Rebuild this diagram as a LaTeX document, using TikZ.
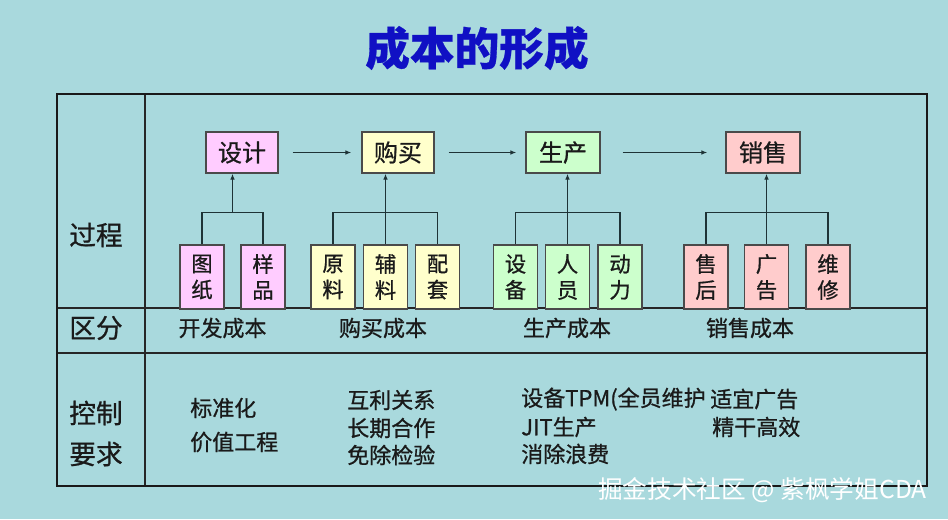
\documentclass[tikz,border=0pt]{standalone}
\usepackage{fontspec}
\setmainfont{Noto Sans CJK SC}[FakeBold=0.8]
\newfontfamily\titlefont{Noto Sans CJK SC}[FakeBold=0.6]
\newfontfamily\plainfont{Noto Sans CJK SC}
\usetikzlibrary{arrows.meta,calc}
\definecolor{bg}{HTML}{A9D9DD}
\definecolor{txt}{HTML}{1A1A1A}
\definecolor{boxline}{HTML}{4A4A4A}
\definecolor{conn}{HTML}{1E3336}
\definecolor{titleblue}{HTML}{1010C4}
\definecolor{fdesign}{HTML}{FFCCFF}
\definecolor{fbuy}{HTML}{FFFFCC}
\definecolor{fprod}{HTML}{CCFFCC}
\definecolor{fsale}{HTML}{FFCCCC}
\tikzset{
  topbox/.style={draw=boxline, line width=1pt, minimum width=54pt, minimum height=30.75pt,
    inner sep=0pt, text=txt, font=\fontsize{18}{20}\selectfont},
  subbox/.style={draw=boxline, line width=1pt, minimum width=33pt, minimum height=48pt,
    inner sep=0pt, align=center, text=txt, font=\fontsize{16}{19.5}\selectfont},
  rowlbl/.style={text=txt, inner sep=0pt, font=\fontsize{20}{22}\selectfont},
  coltxt/.style={text=txt, inner sep=0pt, font=\fontsize{16.5}{18}\selectfont},
  ctrltxt/.style={text=txt, inner sep=0pt, anchor=west, font=\fontsize{16.5}{18}\selectfont},
  conline/.style={draw=conn, line width=1.1pt},
  arr/.style={conline, -{Latex[length=4.5pt,width=3.5pt]}},
  frame/.style={draw=black!90, line width=2.2pt},
  inner/.style={draw=black!85, line width=1.1pt},
}
\begin{document}
\begin{tikzpicture}[x=0.75pt,y=-0.75pt]
\fill[bg] (0,0) rectangle (948,519);
\useasboundingbox (0,0) rectangle (948,519);

% title
\node[text=titleblue, inner sep=0pt, font=\titlefont\fontsize{33.5}{36}\selectfont\bfseries] (title) at (477,48) {成本的形成};

% table frame
\draw[inner] (145,94) -- (145,486);
\draw[inner] (57,308) -- (927,308);
\draw[inner] (57,353) -- (927,353);
\draw[frame] (57,94) rectangle (927,486);

% row labels
\node[rowlbl] (lguocheng) at (96,235) {过程};
\node[rowlbl] (lqufen) at (96,328) {区分};
\node[rowlbl] (lkongzhi) at (96,413) {控制};
\node[rowlbl] (lyaoqiu) at (96,454) {要求};

% top boxes
\node[topbox, fill=fdesign] (sheji) at (242,152.5) {设计};
\node[topbox, fill=fbuy] (goumai) at (398,152.5) {购买};
\node[topbox, fill=fprod, minimum width=55.5pt] (shengchan) at (563,152.5) {生产};
\node[topbox, fill=fsale, minimum width=55.5pt] (xiaoshou) at (763,152.5) {销售};

% sub boxes
\node[subbox, fill=fdesign] (tuzhi) at (202,277) {图\\纸};
\node[subbox, fill=fdesign] (yangpin) at (263,277) {样\\品};
\node[subbox, fill=fbuy] (yuanliao) at (333,277) {原\\料};
\node[subbox, fill=fbuy] (fuliao) at (385.5,277) {辅\\料};
\node[subbox, fill=fbuy] (peitao) at (437.5,277) {配\\套};
\node[subbox, fill=fprod] (shebei) at (515.5,277) {设\\备};
\node[subbox, fill=fprod] (renyuan) at (567.5,277) {人\\员};
\node[subbox, fill=fprod] (dongli) at (620,277) {动\\力};
\node[subbox, fill=fsale] (shouhou) at (706,277) {售\\后};
\node[subbox, fill=fsale] (guanggao) at (766.5,277) {广\\告};
\node[subbox, fill=fsale] (weixiu) at (828,277) {维\\修};

% horizontal flow arrows
\draw[arr, shorten <=10.5pt, shorten >=7.5pt] (sheji) -- (goumai);
\draw[arr, shorten <=10.5pt, shorten >=6.75pt] (goumai) -- (shengchan);
\draw[arr, shorten <=16.5pt, shorten >=13.5pt] (shengchan) -- (xiaoshou);

% brackets
\draw[conline] (tuzhi.north) -- ++(0,-32) -| (yangpin.north);
\coordinate (b1) at ($(tuzhi.north)!0.5!(yangpin.north) + (0,-32)$);
\draw[arr] (b1) -- (b1 |- sheji.south);

\draw[conline] (yuanliao.north) -- ++(0,-32) -| (peitao.north);
\draw[arr] (fuliao.north) -- (fuliao.north |- goumai.south);

\draw[conline] (shebei.north) -- ++(0,-32) -| (dongli.north);
\draw[arr] (renyuan.north) -- (renyuan.north |- shengchan.south);

\draw[conline] (shouhou.north) -- ++(0,-32) -| (weixiu.north);
\draw[arr] (guanggao.north) -- (guanggao.north |- xiaoshou.south);

% classification row
\node[coltxt] (kaifa) at (222.5,328) {开发成本};
\node[coltxt] (goumaicb) at (383,328) {购买成本};
\node[coltxt] (shengchancb) at (567,328) {生产成本};
\node[coltxt] (xiaoshoucb) at (750,328) {销售成本};

% control requirements
\node[ctrltxt] (c1a) at (190,408) {标准化};
\node[ctrltxt] (c1b) at (190,442) {价值工程};
\node[ctrltxt] (c2a) at (347,400) {互利关系};
\node[ctrltxt] (c2b) at (347,428) {长期合作};
\node[ctrltxt] (c2c) at (347,455) {免除检验};
\node[ctrltxt] (c3a) at (521,399) {设备TPM(全员维护};
\node[ctrltxt] (c3b) at (521,427) {JIT生产};
\node[ctrltxt] (c3c) at (521,454) {消除浪费};
\node[ctrltxt] (c4a) at (710,399) {适宜广告};
\node[ctrltxt] (c4b) at (712,427) {精干高效};

% watermark
\node[text=white, inner sep=0pt, anchor=west, font=\plainfont\fontsize{18.5}{20}\selectfont] (wm) at (598,490) {掘金技术社区 @ 紫枫学姐CDA};
\end{tikzpicture}
\end{document}
